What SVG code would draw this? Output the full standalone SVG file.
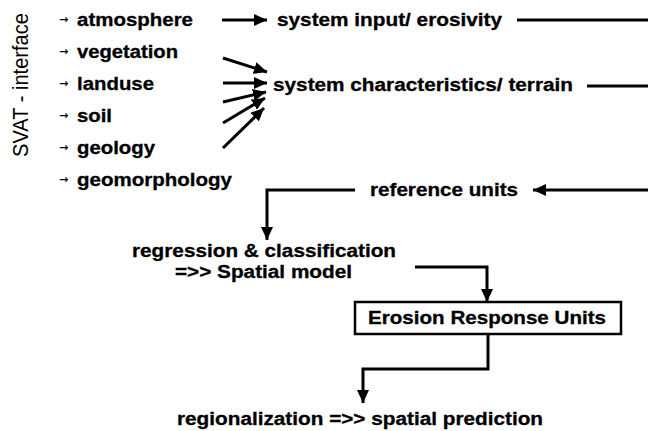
<svg xmlns="http://www.w3.org/2000/svg" width="648" height="431" viewBox="0 0 648 431">
<style>
.t{font-family:"Liberation Sans",Arial,sans-serif;font-weight:bold;font-size:18px;fill:#000;stroke:#000;stroke-width:0.3}
.b{font-family:"DejaVu Sans",sans-serif;font-size:11px;font-weight:bold;fill:#000}
.c{fill:none;stroke:#000;stroke-width:3}
</style>
<defs>
<marker id="ah" markerUnits="userSpaceOnUse" markerWidth="14" markerHeight="12" refX="13" refY="6" orient="auto">
<path d="M0,0 L13,6 L0,12 Z" fill="#000"/>
</marker>
</defs>
<rect width="648" height="431" fill="#fff"/>
<text transform="translate(28,157) scale(1.14,1) rotate(-90)" style="font-family:'Liberation Sans',Arial,sans-serif;font-size:19.5px" textLength="144" lengthAdjust="spacingAndGlyphs">SVAT - interface</text>
<g id="inputs">
<g id="atmosphere"><text class="b" x="59" y="23">→</text><text class="t" x="77" y="26" textLength="116" lengthAdjust="spacingAndGlyphs">atmosphere</text></g>
<g id="vegetation"><text class="b" x="59" y="55">→</text><text class="t" x="77" y="58" textLength="101" lengthAdjust="spacingAndGlyphs">vegetation</text></g>
<g id="landuse"><text class="b" x="59" y="87">→</text><text class="t" x="77" y="90" textLength="77" lengthAdjust="spacingAndGlyphs">landuse</text></g>
<g id="soil"><text class="b" x="59" y="119">→</text><text class="t" x="77" y="122" textLength="35" lengthAdjust="spacingAndGlyphs">soil</text></g>
<g id="geology"><text class="b" x="59" y="151">→</text><text class="t" x="77" y="154" textLength="78" lengthAdjust="spacingAndGlyphs">geology</text></g>
<g id="geomorphology"><text class="b" x="59" y="183">→</text><text class="t" x="77" y="186" textLength="155" lengthAdjust="spacingAndGlyphs">geomorphology</text></g>
</g>
<g id="system-input"><text class="t" x="277" y="26" textLength="225" lengthAdjust="spacingAndGlyphs">system input/ erosivity</text></g>
<g id="system-characteristics"><text class="t" x="273" y="91" textLength="300" lengthAdjust="spacingAndGlyphs">system characteristics/ terrain</text></g>
<g id="reference-units"><text class="t" x="370" y="196" textLength="148" lengthAdjust="spacingAndGlyphs">reference units</text></g>
<g id="spatial-model"><text class="t" x="132" y="257" textLength="264" lengthAdjust="spacingAndGlyphs">regression &amp; classification</text><text class="t" x="175" y="278" textLength="177" lengthAdjust="spacingAndGlyphs">=&gt;&gt; Spatial model</text></g>
<g id="eru"><rect x="355" y="302" width="266" height="32" fill="#fff" stroke="#000" stroke-width="2.5"/><text class="t" x="368" y="324" textLength="238" lengthAdjust="spacingAndGlyphs">Erosion Response Units</text></g>
<g id="regionalization"><text class="t" x="177" y="425" textLength="366" lengthAdjust="spacingAndGlyphs">regionalization =&gt;&gt; spatial prediction</text></g>
<g id="connectors">
<line class="c" x1="222" y1="20" x2="267" y2="20" marker-end="url(#ah)"/>
<line class="c" x1="517" y1="20" x2="648" y2="20"/>
<line class="c" x1="223" y1="58" x2="267" y2="72" marker-end="url(#ah)"/>
<line class="c" x1="223" y1="83" x2="267" y2="83" marker-end="url(#ah)"/>
<line class="c" x1="223" y1="102" x2="266" y2="92" marker-end="url(#ah)"/>
<line class="c" x1="223" y1="123" x2="265" y2="98" marker-end="url(#ah)"/>
<line class="c" x1="223" y1="148" x2="264" y2="108" marker-end="url(#ah)"/>
<line class="c" x1="587" y1="86" x2="648" y2="86"/>
<line class="c" x1="648" y1="190" x2="533" y2="190" marker-end="url(#ah)"/>
<polyline class="c" points="355,190 267,190 267,240" marker-end="url(#ah)"/>
<polyline class="c" points="415,267 487,267 487,302" marker-end="url(#ah)"/>
<polyline class="c" points="488,334 488,369 363,369 363,403" marker-end="url(#ah)"/>
</g>
</svg>
